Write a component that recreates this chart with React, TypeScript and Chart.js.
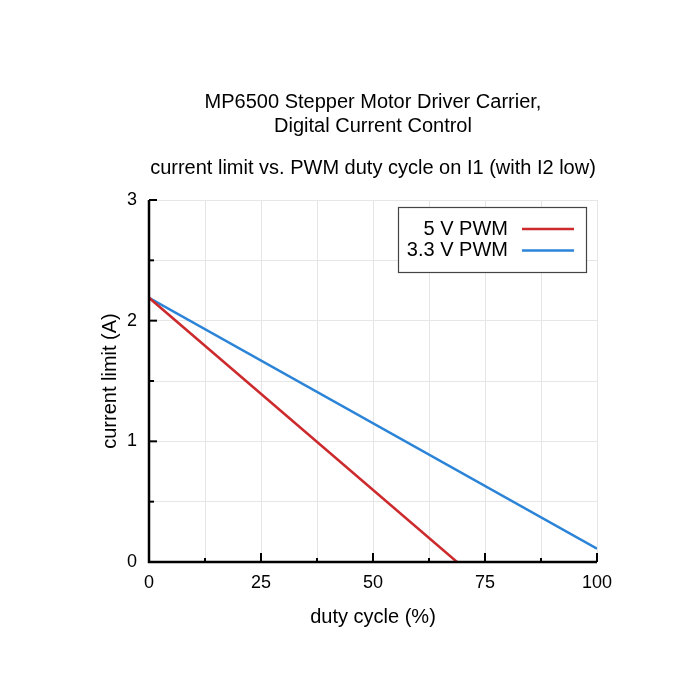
import { useEffect, useRef } from "react";
import { Chart, registerables } from "chart.js";

Chart.register(...registerables);

const titleLines = ["MP6500 Stepper Motor Driver Carrier,", "Digital Current Control"];
const subtitleText = "current limit vs. PWM duty cycle on I1 (with I2 low)";
const xAxisTitle = "duty cycle (%)";
const yAxisTitle = "current limit (A)";
const seriesLabels = ["5 V PWM", "3.3 V PWM"];
const seriesColors = ["#cc2a2c", "#2b84d8"];
const fiveVoltX = [0, 68.75];
const fiveVoltY = [2.19, 0];
const threeVoltX = [0, 100];
const threeVoltY = [2.19, 0.11];
const xTickLabels = ["0", "25", "50", "75", "100"];
const yTickLabels = ["0", "1", "2", "3"];

const FONT = "'Liberation Sans', Arial, sans-serif";

const axesPlugin = {
  id: "axesAndLegend",
  afterDraw(chart: any) {
    const ctx = chart.ctx;
    const xs = chart.scales.x;
    const ys = chart.scales.y;
    const { left, right, top, bottom } = chart.chartArea;
    ctx.save();
    ctx.strokeStyle = "#000";
    ctx.lineWidth = 2.5;
    ctx.lineCap = "butt";
    ctx.beginPath();
    ctx.moveTo(left, top);
    ctx.lineTo(left, bottom);
    ctx.lineTo(right, bottom);
    ctx.stroke();
    ctx.lineWidth = 2;
    for (let v = 0; v <= 3.0001; v += 0.5) {
      const py = ys.getPixelForValue(v);
      const major = Math.abs(v - Math.round(v)) < 1e-6;
      const len = major ? 8 : 5;
      ctx.beginPath();
      ctx.moveTo(left, py);
      ctx.lineTo(left + len, py);
      ctx.stroke();
    }
    for (let v = 0; v <= 100.0001; v += 12.5) {
      const px = xs.getPixelForValue(v);
      const major = Math.abs(v / 25 - Math.round(v / 25)) < 1e-6;
      const len = major ? 9 : 4;
      ctx.beginPath();
      ctx.moveTo(px, bottom);
      ctx.lineTo(px, bottom - len);
      ctx.stroke();
    }
    // legend
    const bx = 398, by = 207, bw = 188, bh = 65;
    ctx.fillStyle = "#fff";
    ctx.fillRect(bx, by, bw, bh);
    ctx.strokeStyle = "#444";
    ctx.lineWidth = 1.2;
    ctx.strokeRect(bx + 0.5, by + 0.5, bw, bh);
    ctx.font = `20px ${FONT}`;
    ctx.textAlign = "right";
    ctx.textBaseline = "middle";
    chart.data.datasets.forEach((ds: any, i: number) => {
      const cy = 229 + i * 21.5;
      ctx.fillStyle = "#000";
      ctx.fillText(ds.label, 508, cy);
      ctx.strokeStyle = ds.borderColor;
      ctx.lineWidth = 2.5;
      ctx.beginPath();
      ctx.moveTo(522, cy);
      ctx.lineTo(574, cy);
      ctx.stroke();
    });
    ctx.restore();
  },
};

export default function App() {
  const ref = useRef<HTMLCanvasElement>(null);
  useEffect(() => {
    if (!ref.current) return;
    const chart = new Chart(ref.current, {
      type: "line",
      data: {
        datasets: [
          {
            label: seriesLabels[0],
            data: fiveVoltX.map((x, i) => ({ x, y: fiveVoltY[i] })),
            borderColor: seriesColors[0],
            borderWidth: 2.5,
            pointRadius: 0,
            fill: false,
          },
          {
            label: seriesLabels[1],
            data: threeVoltX.map((x, i) => ({ x, y: threeVoltY[i] })),
            borderColor: seriesColors[1],
            borderWidth: 2.5,
            pointRadius: 0,
            fill: false,
          },
        ],
      },
      options: {
        animation: false,
        responsive: false,
        maintainAspectRatio: false,
        layout: { padding: { left: 0, right: 103, top: 0, bottom: 58 } },
        plugins: {
          legend: { display: false },
          tooltip: { enabled: false },
          title: {
            display: true,
            text: titleLines,
            fullSize: false,
            color: "#000",
            font: { family: FONT, size: 20, weight: "normal", lineHeight: 1.2 },
            padding: { top: 90, bottom: 6 },
          },
          subtitle: {
            display: true,
            text: subtitleText,
            fullSize: false,
            color: "#000",
            font: { family: FONT, size: 20, weight: "normal", lineHeight: 1.2 },
            padding: { top: 12, bottom: 20 },
          },
        },
        scales: {
          x: {
            type: "linear",
            min: 0,
            max: 100,
            afterFit: (s: any) => { s.height = 80; },
            grid: { color: "#e6e6e6", lineWidth: 1, drawTicks: false },
            border: { display: false },
            ticks: {
              stepSize: 12.5,
              autoSkip: false,
              maxRotation: 0,
              padding: 10,
              color: "#000",
              font: { family: FONT, size: 18 },
              callback: (v: any) => {
                const s = String(v);
                return xTickLabels.includes(s) ? s : "";
              },
            },
            title: {
              display: true,
              text: xAxisTitle,
              color: "#000",
              font: { family: FONT, size: 20, lineHeight: 1.2 },
              padding: { top: 0, bottom: 13 },
            },
          },
          y: {
            type: "linear",
            min: 0,
            max: 3,
            afterFit: (s: any) => { s.width = 149; },
            grid: { color: "#e6e6e6", lineWidth: 1, drawTicks: false },
            border: { display: false },
            ticks: {
              stepSize: 0.5,
              autoSkip: false,
              padding: 12,
              color: "#000",
              font: { family: FONT, size: 18 },
              callback: (v: any) => {
                const s = String(v);
                return yTickLabels.includes(s) ? s : "";
              },
            },
            title: {
              display: true,
              text: yAxisTitle,
              color: "#000",
              font: { family: FONT, size: 20, lineHeight: 1.2 },
              padding: { top: 98, bottom: 0 },
            },
          },
        },
      },
      plugins: [axesPlugin],
    });
    return () => chart.destroy();
  }, []);
  return (
    <div style={{ position: "fixed", left: 0, top: 0, width: 700, height: 700, background: "#fff" }}>
      <canvas ref={ref} width={700} height={700} style={{ display: "block", width: 700, height: 700 }} />
    </div>
  );
}
